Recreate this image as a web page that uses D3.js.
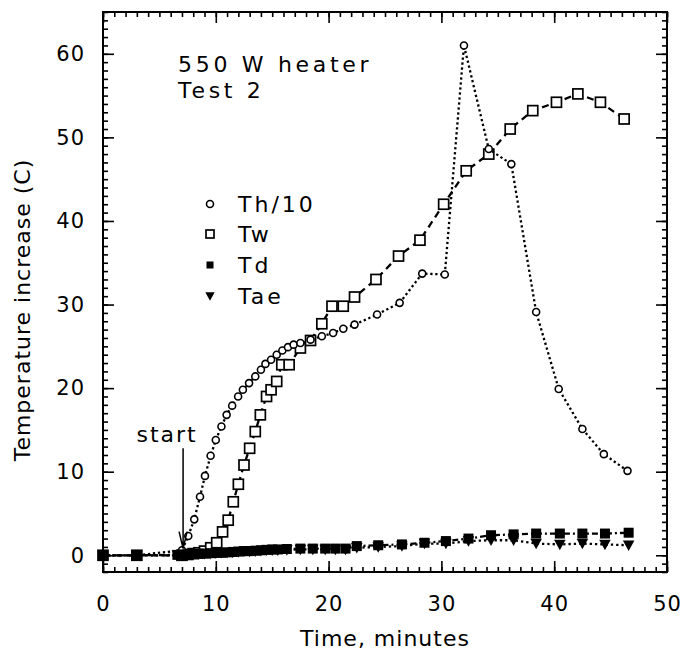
<!DOCTYPE html>
<html>
<head>
<meta charset="utf-8">
<script src="https://cdn.jsdelivr.net/npm/d3@7"></script>
<style>
body { margin: 0; background: #fff; }
text { font-family: "DejaVu Sans", sans-serif; fill: #000; }
</style>
</head>
<body>
<svg width="684" height="655"></svg>
<script>
// values
let thTime = [0, 3, 7.0, 7.56, 8.09, 8.6, 9.04, 9.54, 10.0, 10.5, 10.96, 11.45, 11.98, 12.4, 12.95, 13.5, 14.0, 14.4, 14.9, 15.4, 15.9, 16.4, 16.9, 17.5, 18.4, 19.4, 20.4, 21.3, 22.3, 24.3, 26.3, 28.3, 30.3, 32.0, 34.2, 36.2, 38.4, 40.4, 42.5, 44.4, 46.5];
let thVal = [0, 0, 0.6, 2.3, 4.3, 7.0, 9.5, 11.9, 13.8, 15.4, 16.8, 17.9, 19.0, 19.8, 20.6, 21.4, 22.2, 22.9, 23.4, 24.0, 24.5, 24.9, 25.2, 25.4, 25.8, 26.2, 26.6, 27.1, 27.6, 28.8, 30.2, 33.7, 33.6, 61.0, 48.6, 46.8, 29.1, 19.9, 15.1, 12.1, 10.1];

let twTime = [0, 3, 7.0, 7.5, 8.0, 8.5, 9.0, 9.55, 10.08, 10.6, 11.1, 11.55, 12.0, 12.5, 13.0, 13.5, 13.95, 14.5, 14.9, 15.4, 15.85, 16.5, 17.5, 18.4, 19.4, 20.3, 21.3, 22.3, 24.2, 26.2, 28.1, 30.2, 32.2, 34.2, 36.1, 38.1, 40.2, 42.1, 44.1, 46.2];
let twVal = [0, 0, 0, 0.1, 0.2, 0.3, 0.5, 0.9, 1.5, 2.8, 4.2, 6.4, 8.5, 10.8, 12.8, 14.8, 16.8, 19.0, 19.8, 20.8, 22.8, 22.8, 24.8, 25.7, 27.7, 29.8, 29.8, 30.9, 33.0, 35.8, 37.7, 42.0, 46.0, 48.0, 51.0, 53.2, 54.2, 55.2, 54.2, 52.2];

let tdTime = [0, 3, 6.6, 7.0, 7.5, 8.0, 8.5, 9.0, 9.5, 10.0, 10.5, 11.0, 11.5, 12.0, 12.5, 13.0, 13.5, 14.0, 14.5, 15.0, 15.5, 16.3, 17.5, 18.6, 19.7, 20.6, 21.5, 22.5, 24.4, 26.5, 28.5, 30.4, 32.4, 34.4, 36.4, 38.4, 40.5, 42.5, 44.5, 46.6];
let tdVal = [0, 0, 0.05, 0.1, 0.1, 0.15, 0.2, 0.2, 0.25, 0.3, 0.3, 0.35, 0.4, 0.45, 0.5, 0.5, 0.55, 0.6, 0.65, 0.7, 0.7, 0.75, 0.8, 0.8, 0.8, 0.8, 0.8, 1.1, 1.2, 1.3, 1.5, 1.7, 2.0, 2.4, 2.5, 2.6, 2.6, 2.6, 2.6, 2.7];
let taeVal = [0, 0, 0, 0.05, 0.1, 0.1, 0.15, 0.2, 0.2, 0.25, 0.3, 0.3, 0.35, 0.4, 0.45, 0.45, 0.5, 0.55, 0.6, 0.6, 0.6, 0.65, 0.7, 0.7, 0.7, 0.7, 0.7, 0.9, 1.0, 1.1, 1.4, 1.4, 1.7, 1.8, 1.8, 1.4, 1.3, 1.4, 1.3, 1.2];

let xMajor = [0, 10, 20, 30, 40, 50];
let yMajor = [0, 10, 20, 30, 40, 50, 60];
let legendNames = ["Th/10", "Tw", "Td", "Tae"];
let noteLines = ["550 W heater", "Test 2"];
let startTime = 7.1;

let svg = d3.select("svg");
let x = d3.scaleLinear().domain([0, 50]).range([103, 667]);
let y = d3.scaleLinear().domain([-2, 65]).range([572, 12]);

let x0 = x.range()[0], x1 = x.range()[1];
let y0 = y.range()[0], y1 = y.range()[1];

// ticks on all four sides, pointing in
function ticks(axis, tr, vals, size) {
  svg.append("g")
    .attr("transform", tr)
    .call(axis.tickValues(vals).tickSize(size).tickFormat(""))
    .call(g => g.select(".domain").remove())
    .selectAll("line").attr("stroke", "#000").attr("stroke-width", 1.6);
}
let xMinor = d3.range(0, 51, 1), yMinor = d3.range(-2, 66, 1);
ticks(d3.axisBottom(x), `translate(0,${y0})`, xMinor, -5);
ticks(d3.axisBottom(x), `translate(0,${y0})`, xMajor, -11);
ticks(d3.axisTop(x), `translate(0,${y1})`, xMinor, -5);
ticks(d3.axisTop(x), `translate(0,${y1})`, xMajor, -11);
ticks(d3.axisLeft(y), `translate(${x0},0)`, yMinor, -5);
ticks(d3.axisLeft(y), `translate(${x0},0)`, yMajor, -11);
ticks(d3.axisRight(y), `translate(${x1},0)`, yMinor, -5);
ticks(d3.axisRight(y), `translate(${x1},0)`, yMajor, -11);

svg.append("g")
  .attr("transform", `translate(0,${y0})`)
  .call(d3.axisBottom(x).tickValues(xMajor).tickSize(0).tickPadding(24))
  .call(g => g.select(".domain").remove())
  .selectAll("text").attr("font-size", 21).attr("letter-spacing", 1);

svg.append("g")
  .attr("transform", `translate(${x0},0)`)
  .call(d3.axisLeft(y).tickValues(yMajor).tickSize(0).tickPadding(18))
  .call(g => g.select(".domain").remove())
  .selectAll("text").attr("font-size", 21).attr("letter-spacing", 1);

svg.append("rect")
  .attr("x", x0).attr("y", y1)
  .attr("width", x1 - x0).attr("height", y0 - y1)
  .attr("fill", "none").attr("stroke", "#000").attr("stroke-width", 2);

svg.append("text")
  .attr("x", (x0 + x1) / 2).attr("y", 646)
  .attr("text-anchor", "middle").attr("font-size", 22).attr("letter-spacing", 1)
  .text("Time, minutes");

svg.append("text")
  .attr("transform", "translate(30,310) rotate(-90)")
  .attr("text-anchor", "middle").attr("font-size", 22).attr("letter-spacing", 1)
  .text("Temperature increase (C)");

let pts = (ts, vs) => ts.map((t, i) => ({t: t, v: vs[i]}));
let th = pts(thTime, thVal), tw = pts(twTime, twVal), td = pts(tdTime, tdVal), tae = pts(tdTime, taeVal);

let line = d3.line().x(d => x(d.t)).y(d => y(d.v));
let tri = "M-5.5,-4.5L5.5,-4.5L0,5.5Z";

function series(data, dash, draw) {
  svg.append("path")
    .datum(data)
    .attr("d", line)
    .attr("fill", "none").attr("stroke", "#000")
    .attr("stroke-width", 2.3).attr("stroke-dasharray", dash);
  let g = svg.append("g").selectAll("g")
    .data(data)
    .enter().append("g")
      .attr("transform", d => `translate(${x(d.t)},${y(d.v)})`);
  draw(g);
}

let circ = g => g.append("circle").attr("r", 3.5).attr("fill", "#fff").attr("stroke", "#000").attr("stroke-width", 1.6);
let box = s => g => g.append("rect").attr("x", -s / 2).attr("y", -s / 2).attr("width", s).attr("height", s)
  .attr("fill", "#fff").attr("stroke", "#000").attr("stroke-width", 1.7);
let fbox = s => g => g.append("rect").attr("x", -s / 2).attr("y", -s / 2).attr("width", s).attr("height", s).attr("fill", "#000");
let ftri = k => g => g.append("path").attr("d", tri).attr("transform", `scale(${k})`).attr("fill", "#000");

series(tw, "7,5", box(10));
series(th, "2.3,2.7", circ);
series(td, "6,3,2,3", fbox(10));
series(tae, "2.3,3", ftri(1.05));

// legend
let legY = [204, 234, 265, 296];
let markers = [circ, box(8), fbox(7), ftri(0.85)];
legendNames.forEach((name, i) => {
  let g = svg.append("g").attr("transform", `translate(210,${legY[i]})`);
  markers[i](g);
  svg.append("text")
    .attr("x", 238).attr("y", legY[i] + 8)
    .attr("font-size", 22).attr("letter-spacing", 3)
    .text(name);
});

svg.selectAll(".note")
  .data(noteLines)
  .enter().append("text")
    .attr("class", "note")
    .attr("x", 178).attr("y", (d, i) => 72 + i * 26)
    .attr("font-size", 22).attr("letter-spacing", 3.7)
    .text(d => d);

// start arrow
let ax = x(startTime);
svg.append("text")
  .attr("x", ax - 16).attr("y", 442)
  .attr("text-anchor", "middle").attr("font-size", 22).attr("letter-spacing", 2)
  .text("start");
svg.append("path")
  .attr("d", `M${ax},${y(12.8)}V${y(0.8)}M${ax - 4},${y(0.8) - 17}L${ax},${y(0.8)}L${ax + 4},${y(0.8) - 17}`)
  .attr("fill", "none").attr("stroke", "#000").attr("stroke-width", 1.5);
</script>
</body>
</html>
